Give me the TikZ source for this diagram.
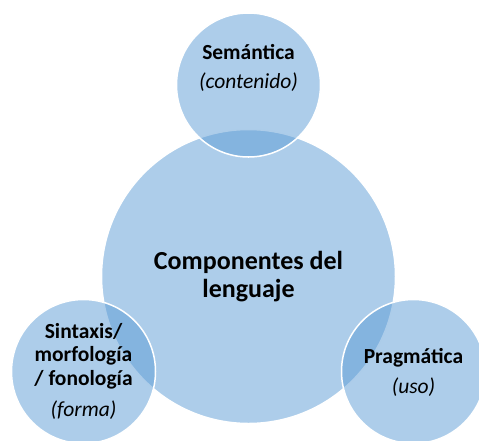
\documentclass[tikz,border=0pt]{standalone}
\usepackage{fontspec}
\setmainfont{Carlito}
\definecolor{compblue}{HTML}{5B9BD5}
\begin{document}
\begin{tikzpicture}[x=1pt, y=1pt,
  ring/.style={circle, fill=compblue, fill opacity=0.5, draw=white, line width=1.5pt, inner sep=0pt},
  sat/.style={ring, minimum size=144pt},
  satlabel/.style={align=center, font=\fontsize{21.5}{23.5}\selectfont\bfseries}]
  \useasboundingbox (0,0) rectangle (479,-440);

  % circles
  \node[ring, minimum size=294pt] (lenguaje) at (248.5,-276.5) {};
  \node[sat] (semantica) at (248.5,-85) {};
  \node[sat] (sintaxis) at (83.5,-371.5) {};
  \node[sat] (pragmatica) at (413.5,-371.5) {};

  % texts
  \node[align=center, font=\fontsize{26}{27.5}\selectfont\bfseries] (lenguajetxt) at (lenguaje) {Componentes del\\lenguaje};
  \node[satlabel] (semanticatxt) at ([yshift=17pt]semantica) {Sem\'antica\\[6pt]{\mdseries\itshape (contenido)}};
  \node[satlabel] (sintaxistxt) at (sintaxis) {Sintaxis/\\morfolog\'{\i}a\\/ fonolog\'{\i}a\\[8pt]{\mdseries\itshape (forma)}};
  \node[satlabel] (pragmaticatxt) at ([yshift=-1pt]pragmatica) {Pragm\'atica\\[6pt]{\mdseries\itshape (uso)}};
\end{tikzpicture}
\end{document}
